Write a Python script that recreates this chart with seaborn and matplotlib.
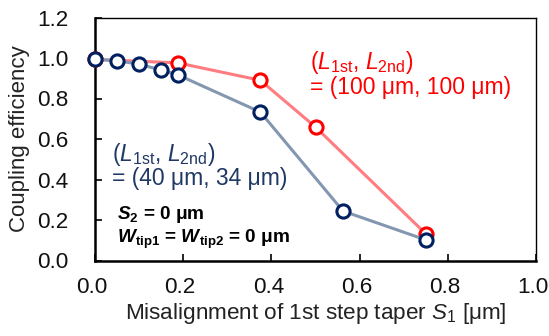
import matplotlib
matplotlib.use("Agg")
import matplotlib.pyplot as plt
import matplotlib.transforms as mtransforms
import seaborn as sns
import pandas as pd

# Data
blue_x = [0.0, 0.05, 0.10, 0.15, 0.1875, 0.375, 0.5625, 0.75]
blue_y = [0.993, 0.987, 0.969, 0.941, 0.917, 0.733, 0.244, 0.102]
red_x = [0.0, 0.1875, 0.375, 0.5, 0.75]
red_y = [0.993, 0.976, 0.890, 0.659, 0.132]
x_ticks = [0.0, 0.2, 0.4, 0.6, 0.8, 1.0]
y_ticks = [0.0, 0.2, 0.4, 0.6, 0.8, 1.0, 1.2]

sns.set_theme(style="white")
plt.rcParams['font.family'] = ['Liberation Sans', 'DejaVu Sans']
plt.rcParams['mathtext.fontset'] = 'custom'
plt.rcParams['mathtext.rm'] = 'Liberation Sans'
plt.rcParams['mathtext.it'] = 'Liberation Sans:italic'
plt.rcParams['mathtext.bf'] = 'Liberation Sans:bold'
plt.rcParams['mathtext.bfit'] = 'Liberation Sans:italic:bold'

fig = plt.figure(figsize=(5.49, 3.36), dpi=100)
ax = fig.add_axes([95/549, 1-260.5/336, 441/549, 243/336])

df_b = pd.DataFrame({"x": blue_x, "y": blue_y})
df_r = pd.DataFrame({"x": red_x, "y": red_y})

sns.lineplot(data=df_r, x="x", y="y", ax=ax, color="#FF7C80", lw=2.2,
             marker="o", markersize=9.5, mfc="white", mec="#FF0000", mew=2.2, zorder=3,
             clip_on=False)
sns.lineplot(data=df_b, x="x", y="y", ax=ax, color="#8497B0", lw=2.2,
             marker="o", markersize=9.5, mfc="white", mec="#002060", mew=2.2, zorder=4,
             clip_on=False)

ax.set_xlim(0, 1.0)
ax.set_ylim(0, 1.2)
ax.set_xticks(x_ticks)
ax.set_yticks(y_ticks)
ax.set_xticklabels([f"{v:.1f}" for v in x_ticks])
ax.set_yticklabels([f"{v:.1f}" for v in y_ticks])
ax.tick_params(axis='both', direction='in', labelsize=16.2, length=5, width=1.2, color='black',
               labelcolor='#111111', left=True, bottom=True, top=False, right=False)
ax.tick_params(axis='y', pad=19)
ax.tick_params(axis='x', pad=12)
shift = mtransforms.ScaledTranslation(-3/100, 0, fig.dpi_scale_trans)
for lab in ax.get_xticklabels():
    lab.set_transform(lab.get_transform() + shift)
for s in ['left', 'bottom']:
    ax.spines[s].set_linewidth(1.8)
    ax.spines[s].set_color('black')
for s in ['top', 'right']:
    ax.spines[s].set_linewidth(1.0)
    ax.spines[s].set_color('black')

ax.set_xlabel(r"Misalignment of 1st step taper $\mathit{S}_{\mathrm{1}}$ [μm]", fontsize=16.2,
              color='#222222', labelpad=2)
ax.set_ylabel("Coupling efficiency", fontsize=16, color='#222222', labelpad=5)

red = "#FF0000"
blue = "#1F3864"
ax.text(0.488, 0.948, r"($\mathit{L}_{\mathrm{1st}}$, $\mathit{L}_{\mathrm{2nd}}$)", color=red, fontsize=16.5, va='baseline')
ax.text(0.488, 0.821, "= (100 μm, 100 μm)", color=red, fontsize=16.5, va='baseline')
ax.text(0.038, 0.490, r"($\mathit{L}_{\mathrm{1st}}$, $\mathit{L}_{\mathrm{2nd}}$)", color=blue, fontsize=16.5, va='baseline')
ax.text(0.038, 0.371, "= (40 μm, 34 μm)", color=blue, fontsize=16.5, va='baseline')
ax.text(0.05, 0.206, r"$\mathbfit{S}_{\mathbf{2}}$ = 0 μm", color='black', fontsize=13.7,
        fontweight='bold', va='baseline')
ax.text(0.05, 0.086, r"$\mathbfit{W}_{\mathbf{tip1}}$ = $\mathbfit{W}_{\mathbf{tip2}}$ = 0 μm", color='black',
        fontsize=13.7, fontweight='bold', va='baseline')

fig.savefig("out.png", dpi=100)
